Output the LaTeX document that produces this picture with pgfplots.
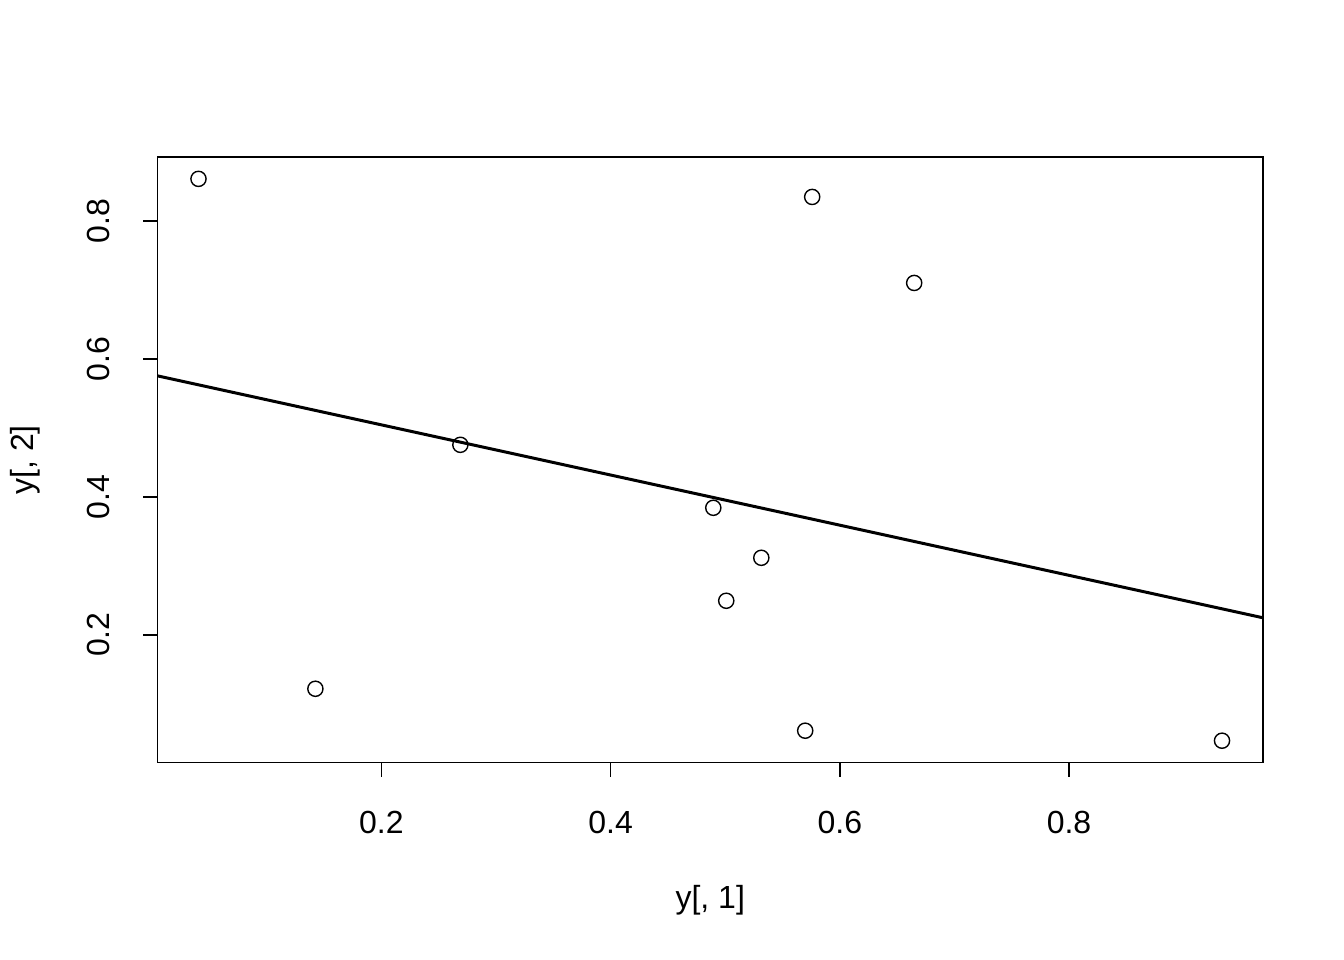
\documentclass[border=0pt]{standalone}
\usepackage{fontspec}
\setmainfont{Liberation Sans}
\usepackage{pgfplots}
\pgfplotsset{compat=1.18}
\begin{document}
\fontsize{16pt}{19pt}\selectfont
\begin{tikzpicture}[x=1pt,y=1pt]
\path (0,0) rectangle (672,480);
\begin{axis}[
  at={(78.5pt,98.5pt)}, anchor=south west,
  scale only axis, width=553pt, height=303pt,
  xmin=0.0046, xmax=0.9693, ymin=0.0145, ymax=0.8928,
  xtick={0.2,0.4,0.6,0.8}, ytick={0.2,0.4,0.6,0.8},
  xtick pos=bottom, ytick pos=left,
  tick align=outside, major tick length=7pt,
  axis line style={line width=0.75pt}, every tick/.style={black,line width=0.75pt},
  /pgf/number format/assume math mode=true,
  /pgf/number format/.cd, fixed, precision=1, fixed zerofill, /pgfplots/.cd,
  xticklabel style={font=\fontsize{16pt}{19pt}\selectfont, anchor=center, yshift=-23pt},
  yticklabel style={font=\fontsize{16pt}{19pt}\selectfont, rotate=90, anchor=center, yshift=22.5pt},
  xlabel={y[, 1]}, ylabel={y[, 2]},
  xlabel style={at={(axis description cs:0.5,-0.2277)}, anchor=center, font=\fontsize{16pt}{19pt}\selectfont},
  ylabel style={at={(axis description cs:-0.1193,0.5)}, anchor=center, font=\fontsize{16pt}{19pt}\selectfont},
  clip=true,
]
\addplot[only marks, mark=o, mark size=3.8pt, mark options={line width=0.7pt, black}] coordinates {
(0.0404,0.861) (0.5759,0.8348) (0.6649,0.7101) (0.2689,0.4754) (0.4896,0.3841)
(0.5315,0.3116) (0.5009,0.2493) (0.1424,0.1217) (0.5698,0.0609) (0.9335,0.0464)
};
\addplot[black, line width=1.5pt] coordinates {(0.0046,0.5754) (0.9693,0.2246)};
\end{axis}
\end{tikzpicture}
\end{document}
